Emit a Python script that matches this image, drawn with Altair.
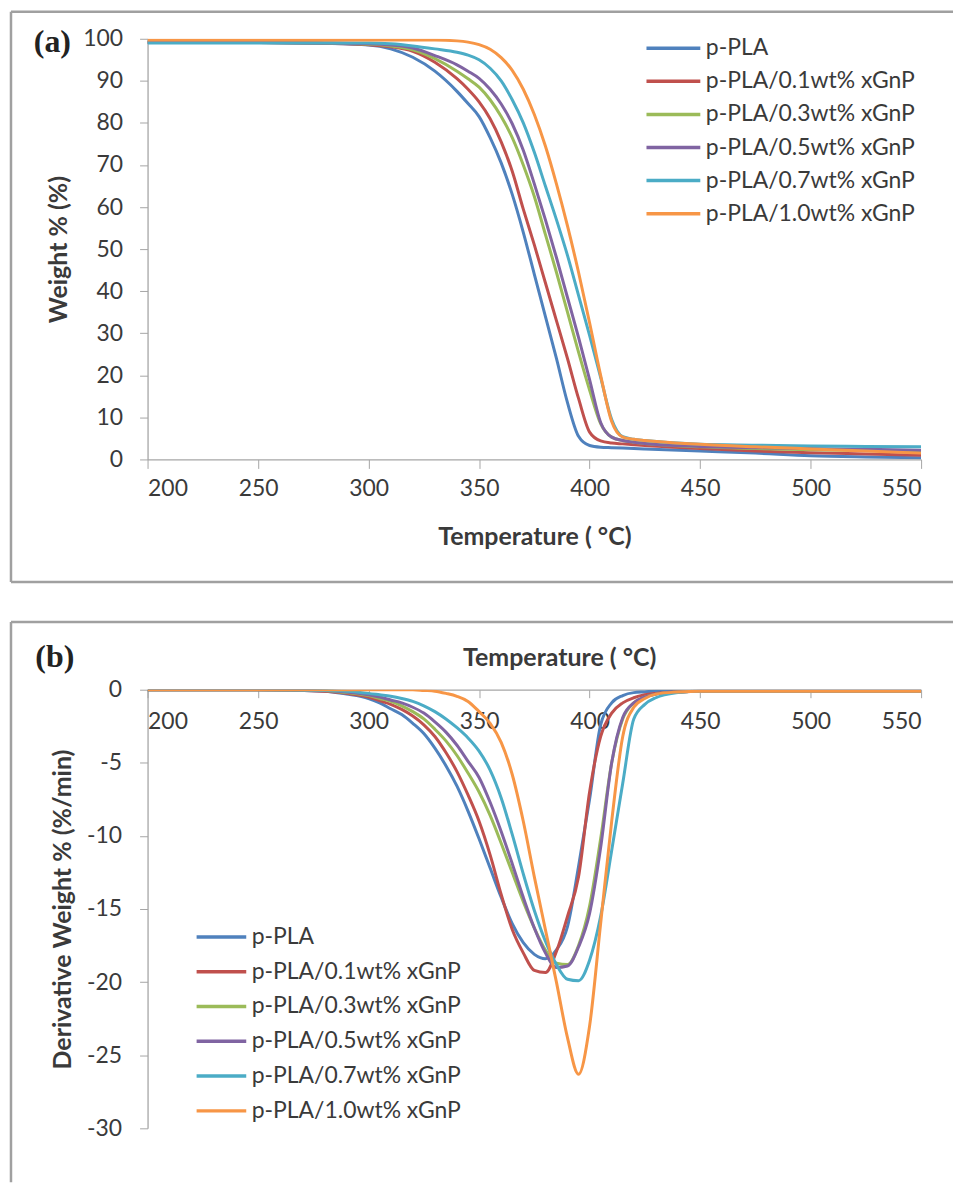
import altair as alt
import pandas as pd

series = ["p-PLA", "p-PLA/0.1wt% xGnP", "p-PLA/0.3wt% xGnP",
          "p-PLA/0.5wt% xGnP", "p-PLA/0.7wt% xGnP", "p-PLA/1.0wt% xGnP"]
colors = ["#4F81BD", "#C0504D", "#9BBB59", "#8064A2", "#4BACC6", "#F79646"]

x_ticks = [200, 250, 300, 350, 400, 450, 500, 550]
ya_ticks = [0, 10, 20, 30, 40, 50, 60, 70, 80, 90, 100]
yb_ticks = [-30, -25, -20, -15, -10, -5, 0]

# ---- (a) TGA: weight % vs temperature ----
tga_T = [200, 250, 280, 300, 310, 320, 330, 340, 345, 350, 355, 360, 365, 370, 375,
         380, 385, 390, 395, 400, 405, 410, 415, 420, 425, 450, 475, 500, 525, 550]
tga_pla = [99.2, 99.1, 98.9, 98.5, 97.6, 95.6, 92.3, 87.5, 84.6, 81.5, 76.5, 70.5, 63, 54, 44,
           34, 24, 13.5, 5.5, 3.3, 2.9, 2.8, 2.7, 2.6, 2.5, 2.0, 1.5, 0.9, 0.6, 0.4]
tga_01 = [99.2, 99.1, 98.9, 98.6, 98.1, 97.0, 94.4, 90.5, 88.0, 85.0, 81.0, 75.5, 68.5, 59.5, 51,
          42, 33, 24, 14.5, 6.5, 4.4, 3.9, 3.7, 3.5, 3.3, 2.6, 2.0, 1.6, 1.3, 1.0]
tga_03 = [99.2, 99.1, 99.0, 98.7, 98.3, 97.4, 95.3, 92.3, 90.5, 88.5, 85.5, 81.5, 76.5, 70, 62.5,
          53.5, 44.5, 35, 25.5, 16.5, 8.5, 5.3, 4.5, 4.1, 3.8, 3.0, 2.6, 2.3, 2.1, 2.0]
tga_05 = [99.2, 99.1, 99.0, 98.8, 98.5, 97.8, 96.0, 93.8, 92.3, 90.6, 88.0, 84.5, 79.8, 73.5, 65.5,
          57, 48, 38.5, 29, 19.0, 8.8, 5.3, 4.5, 4.1, 3.8, 3.1, 2.8, 2.6, 2.4, 2.2]
tga_07 = [99.0, 99.0, 99.0, 99.0, 98.8, 98.3, 97.6, 96.8, 96.1, 95.0, 93.0, 90.0, 85.5, 80, 73,
          65, 57, 48.5, 39, 29.5, 19.5, 9.5, 5.4, 4.8, 4.5, 3.6, 3.4, 3.2, 3.1, 3.0]
tga_10 = [99.7, 99.7, 99.7, 99.7, 99.7, 99.7, 99.7, 99.5, 99.2, 98.6, 97.5, 95.5, 92.5, 88, 82,
          74.5, 65.5, 55.5, 44.5, 32.5, 20, 9, 5.3, 4.8, 4.5, 3.6, 3.0, 2.5, 2.0, 1.5]

# ---- (b) DTG: derivative weight % vs temperature ----
dtg_T = [200, 250, 280, 290, 300, 305, 310, 315, 320, 325, 330, 335, 340, 345, 350, 355, 360,
         365, 370, 375, 380, 385, 390, 395, 400, 405, 410, 415, 420, 425, 430, 440, 450,
         475, 500, 525, 550]
dtg_pla = [0, 0, -0.1, -0.3, -0.6, -0.9, -1.3, -1.7, -2.3, -3.0, -4.0, -5.2, -6.6, -8.3, -10.2,
           -12.2, -14.2, -16.0, -17.3, -18.1, -18.4, -17.8, -16.2, -12.1, -7.5, -2.4, -0.9,
           -0.4, -0.2, -0.15, -0.1, -0.1, -0.1, -0.1, -0.1, -0.1, -0.1]
dtg_01 = [0, 0, -0.1, -0.25, -0.5, -0.75, -1.0, -1.35, -1.8, -2.4, -3.2, -4.3, -5.6, -7.2, -9.0,
          -11.3, -14.0, -16.4, -18.0, -19.2, -19.35, -17.9, -15.5, -12.8, -7.0, -3.2, -1.6,
          -0.9, -0.55, -0.35, -0.25, -0.15, -0.1, -0.1, -0.1, -0.1, -0.1]
dtg_03 = [0, 0, -0.05, -0.2, -0.4, -0.6, -0.8, -1.1, -1.5, -2.0, -2.7, -3.5, -4.5, -5.7, -7.0,
          -8.6, -10.5, -12.5, -14.5, -16.3, -17.8, -18.7, -18.8, -17.5, -14.8, -10.2, -5.0,
          -2.0, -0.9, -0.5, -0.3, -0.15, -0.1, -0.1, -0.1, -0.1, -0.1]
dtg_05 = [0, 0, -0.05, -0.15, -0.35, -0.5, -0.7, -0.9, -1.2, -1.6, -2.2, -2.9, -3.8, -4.9, -6.0,
          -7.7, -9.7, -11.9, -14.2, -16.3, -18.0, -19.0, -18.9, -17.6, -15.3, -10.8, -5.0,
          -1.9, -0.9, -0.5, -0.3, -0.15, -0.1, -0.1, -0.1, -0.1, -0.1]
dtg_07 = [0, 0, -0.05, -0.1, -0.25, -0.35, -0.45, -0.6, -0.8, -1.1, -1.5, -2.0, -2.6, -3.3, -4.2,
          -5.5, -7.4, -9.9, -12.6, -15.1, -17.2, -18.8, -19.8, -19.9, -18.5, -15.5, -11.0,
          -6.4, -2.0, -1.0, -0.55, -0.2, -0.1, -0.1, -0.1, -0.1, -0.1]
dtg_10 = [0, 0, 0, 0, 0, 0, 0, 0, 0, -0.05, -0.1, -0.25, -0.45, -0.8, -1.5,
          -2.3, -3.6, -5.8, -9.0, -12.8, -16.4, -20.0, -23.8, -26.3, -23.0, -16.0, -9.0,
          -3.2, -1.2, -0.6, -0.3, -0.15, -0.1, -0.1, -0.1, -0.1, -0.1]


def to_long(temps, value_lists):
    rows = []
    for i, (name, vals) in enumerate(zip(series, value_lists)):
        for t, v in zip(temps, vals):
            rows.append({"T": t, "v": v, "series": name, "k": i})
    return pd.DataFrame(rows)


df_a = to_long(tga_T, [tga_pla, tga_01, tga_03, tga_05, tga_07, tga_10])
df_b = to_long(dtg_T, [dtg_pla, dtg_01, dtg_03, dtg_05, dtg_07, dtg_10])

FONT = "Lato"
TXT = "#3a3a3a"
AX = "#a6a6a6"
FRAME = "#a0a0a0"
W = 776
HA = 422
HB = 440
LBL = 23
TTL = 25
one = alt.Data(values=[{"k": 0}])


def frame_rule(x1, x2, y1, y2):
    return alt.Chart(one).mark_rule(stroke=FRAME, strokeWidth=2.5, clip=False).encode(
        x=alt.value(x1), x2=alt.value(x2), y=alt.value(y1), y2=alt.value(y2))


def panel_label(text, x, y):
    return alt.Chart(one).mark_text(
        text=text, font="Liberation Serif", fontWeight="bold", fontSize=32,
        align="center", baseline="middle", color="#222222").encode(
        x=alt.value(x), y=alt.value(y))


def color_enc(lx, ly, sym, rowpad):
    return alt.Color("series:N", sort=series,
                     scale=alt.Scale(domain=series, range=colors),
                     legend=alt.Legend(title=None, orient="none", legendX=lx, legendY=ly,
                                       symbolType=sym, symbolSize=144, symbolStrokeWidth=3.5,
                                       labelFont=FONT, labelFontSize=LBL, labelColor=TXT,
                                       labelOffset=0, labelLimit=400, rowPadding=rowpad,
                                       padding=0))


# ---------- panel (a) ----------
lines_a = alt.Chart(df_a).mark_line(strokeWidth=3, interpolate="monotone", clip=True).encode(
    x=alt.X("T:Q", scale=alt.Scale(domain=[200, 550], nice=False),
            axis=alt.Axis(values=x_ticks, title="Temperature ( °C)", grid=False,
                          tickSize=9, tickColor=AX, domainColor=AX, domainWidth=1.3,
                          labelFont=FONT, labelFontSize=LBL, labelColor=TXT, labelPadding=9,
                          titleFont=FONT, titleFontSize=TTL, titleFontWeight="bold",
                          titleColor=TXT, titlePadding=24)),
    y=alt.Y("v:Q", scale=alt.Scale(domain=[0, 100], nice=False),
            axis=alt.Axis(values=ya_ticks, title="Weight % (%)", grid=False,
                          tickSize=8, tickColor=AX, domainColor=AX, domainWidth=1.3,
                          labelFont=FONT, labelFontSize=LBL, labelColor=TXT, labelPadding=17,
                          titleFont=FONT, titleFontSize=TTL, titleFontWeight="bold",
                          titleColor=TXT, titlePadding=11)),
    color=color_enc(537, -2, "M-8,0H1", 9.2),
    order=alt.Order("k:Q"),
)

panel_a = alt.layer(
    lines_a,
    frame_rule(-137, 808, -27, -27),
    frame_rule(-137, -137, -27, 545),
    frame_rule(-137, 808, 545, 545),
    panel_label("(a)", -95.5, 3),
).properties(width=W, height=HA)

# ---------- panel (b) ----------
lines_b = alt.Chart(df_b).mark_line(strokeWidth=3, interpolate="monotone", clip=True).encode(
    x=alt.X("T:Q", scale=alt.Scale(domain=[200, 550], nice=False),
            axis=alt.Axis(values=x_ticks, title="Temperature ( °C)", grid=False,
                          orient="bottom", offset=-HB,
                          tickSize=8, tickColor=AX, domainColor=AX, domainWidth=1.3,
                          labelFont=FONT, labelFontSize=LBL, labelColor=TXT, labelPadding=13,
                          titleFont=FONT, titleFontSize=TTL, titleFontWeight="bold",
                          titleColor=TXT, titleX=413, titleY=-32, titleBaseline="middle")),
    y=alt.Y("v:Q", scale=alt.Scale(domain=[-30, 0], nice=False),
            axis=alt.Axis(values=yb_ticks, title="Derivative Weight % (%/min)", grid=False,
                          labelExpr="datum.value + ''",
                          tickSize=8, tickColor=AX, domainColor=AX, domainWidth=1.3,
                          labelFont=FONT, labelFontSize=LBL, labelColor=TXT, labelPadding=18,
                          titleFont=FONT, titleFontSize=TTL, titleFontWeight="bold",
                          titleColor=TXT, titlePadding=11)),
    color=color_enc(81.5, 236.5, "M-7.3,0H1", 10.9),
    order=alt.Order("k:Q"),
)

panel_b = alt.layer(
    lines_b,
    frame_rule(-137, 808, -68, -68),
    frame_rule(-137, -137, -68, 494),
    panel_label("(b)", -93, -33),
).properties(width=W, height=HB)

chart = alt.vconcat(panel_a, panel_b, spacing=36).resolve_scale(
    color="independent").resolve_legend(color="independent").properties(
    padding={"left": 1, "top": 0, "right": 0, "bottom": 0}
).configure_view(stroke="transparent")

chart.save("out.html", embed_options={"renderer": "svg", "actions": False})
